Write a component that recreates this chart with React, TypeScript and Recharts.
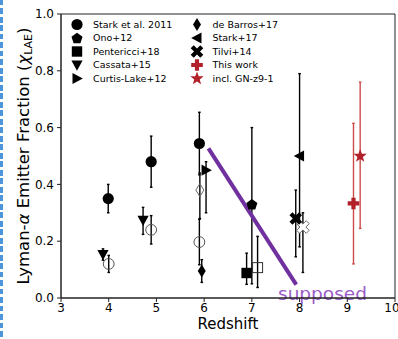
import React from 'react';
import {
  ComposedChart,
  Scatter,
  XAxis,
  YAxis,
  ErrorBar,
  ReferenceLine,
  ReferenceArea,
  Customized,
} from 'recharts';

// ---------- data ----------
const xTicks = [3, 4, 5, 6, 7, 8, 9, 10];
const yTicks = [0, 0.2, 0.4, 0.6, 0.8, 1.0];

const stark11X = [3.99, 4.89, 5.9];
const stark11Y = [0.35, 0.48, 0.544];
const stark11Lo = [0.05, 0.09, 0.11];
const stark11Hi = [0.05, 0.09, 0.11];

const stark11OpenX = [4.0, 4.89, 5.9];
const stark11OpenY = [0.12, 0.24, 0.197];
const stark11OpenLo = [0.03, 0.05, 0.08];
const stark11OpenHi = [0.03, 0.05, 0.08];

const cassataX = [3.88, 4.72];
const cassataY = [0.153, 0.274];
const cassataLo = [0.02, 0.05];
const cassataHi = [0.02, 0.045];

const curtisX = [6.04];
const curtisY = [0.45];
const curtisLo = [0.15];
const curtisHi = [0.03];

const deBarrosX = [5.95];
const deBarrosY = [0.095];
const deBarrosLo = [0.04];
const deBarrosHi = [0.04];

const deBarrosOpenX = [5.91];
const deBarrosOpenY = [0.38];
const deBarrosOpenLo = [0.1];
const deBarrosOpenHi = [0.06];

const onoX = [7.0];
const onoY = [0.33];
const onoLo = [0.28];
const onoHi = [0.27];

const pentericciX = [6.89];
const pentericciY = [0.088];
const pentericciLo = [0.04];
const pentericciHi = [0.07];

const pentericciOpenX = [7.12];
const pentericciOpenY = [0.107];
const pentericciOpenLo = [0.07];
const pentericciOpenHi = [0.11];

const stark17X = [8.0];
const stark17Y = [0.5];
const stark17Lo = [0.32];
const stark17Hi = [0.29];

const tilviX = [7.92];
const tilviY = [0.28];
const tilviLo = [0.135];
const tilviHi = [0.1];

const tilviOpenX = [8.07];
const tilviOpenY = [0.25];
const tilviOpenLo = [0.16];
const tilviOpenHi = [0.05];

const thisWorkX = [9.13];
const thisWorkY = [0.333];
const thisWorkLo = [0.213];
const thisWorkHi = [0.282];

const gnz9X = [9.27];
const gnz9Y = [0.5];
const gnz9Lo = [0.255];
const gnz9Hi = [0.26];

const supposedX = [6.09, 7.93];
const supposedY = [0.527, 0.047];

const legendLeft = ['Stark et al. 2011', 'Ono+12', 'Pentericci+18', 'Cassata+15', 'Curtis-Lake+12'];
const legendLeftMarkers = ['circle', 'pentagon', 'square', 'triDown', 'triRight'];
const legendRight = ['de Barros+17', 'Stark+17', 'Tilvi+14', 'This work', 'incl. GN-z9-1'];
const legendRightMarkers = ['diamond', 'triLeft', 'xFilled', 'plusRed', 'starRed'];

// ---------- helpers ----------
const build = (xs: number[], ys: number[], lo: number[], hi: number[]) =>
  xs.map((x, i) => ({ x, y: ys[i], err: [lo[i], hi[i]] }));

const RED = '#b2202a';
const RED_ERR = '#cc4b4b';
const FONT = 'DejaVu Sans, sans-serif';

const poly = (pts: number[][]) => pts.map((p) => p.join(',')).join(' ');

function plusPts(cx: number, cy: number, L: number, t: number) {
  return poly([
    [cx + t, cy - L], [cx + t, cy - t], [cx + L, cy - t], [cx + L, cy + t],
    [cx + t, cy + t], [cx + t, cy + L], [cx - t, cy + L], [cx - t, cy + t],
    [cx - L, cy + t], [cx - L, cy - t], [cx - t, cy - t], [cx - t, cy - L],
  ]);
}

function starPts(cx: number, cy: number, R: number, r: number) {
  const pts: number[][] = [];
  for (let k = 0; k < 10; k++) {
    const a = (-90 + k * 36) * (Math.PI / 180);
    const rr = k % 2 === 0 ? R : r;
    pts.push([cx + rr * Math.cos(a), cy + rr * Math.sin(a)]);
  }
  return poly(pts);
}

function pentPts(cx: number, cy: number, R: number) {
  const pts: number[][] = [];
  for (let k = 0; k < 5; k++) {
    const a = (-90 + k * 72) * (Math.PI / 180);
    pts.push([cx + R * Math.cos(a), cy + R * Math.sin(a)]);
  }
  return poly(pts);
}

function Marker({ type, cx, cy }: { type: string; cx: number; cy: number }) {
  if (cx == null || cy == null || isNaN(cx) || isNaN(cy)) return null;
  switch (type) {
    case 'circle':
      return <circle cx={cx} cy={cy} r={5.6} fill="#000" />;
    case 'openCircle':
      return <circle cx={cx} cy={cy} r={5.4} fill="none" stroke="#555" strokeWidth={1} />;
    case 'triDown':
      return <polygon points={poly([[cx - 5.6, cy - 4.5], [cx + 5.6, cy - 4.5], [cx, cy + 5.8]])} fill="#000" />;
    case 'triRight':
      return <polygon points={poly([[cx - 4.5, cy - 5.6], [cx - 4.5, cy + 5.6], [cx + 5.8, cy]])} fill="#000" />;
    case 'triLeft':
      return <polygon points={poly([[cx + 4.5, cy - 5.6], [cx + 4.5, cy + 5.6], [cx - 5.8, cy]])} fill="#000" />;
    case 'pentagon':
      return <polygon points={pentPts(cx, cy + 0.5, 5.8)} fill="#000" />;
    case 'square':
      return <rect x={cx - 5.2} y={cy - 5.2} width={10.4} height={10.4} fill="#000" />;
    case 'openSquare':
      return <rect x={cx - 5} y={cy - 5} width={10} height={10} fill="none" stroke="#333" strokeWidth={1} />;
    case 'diamond':
      return <polygon points={poly([[cx, cy - 6.5], [cx + 4, cy], [cx, cy + 6.5], [cx - 4, cy]])} fill="#000" />;
    case 'openDiamond':
      return <polygon points={poly([[cx, cy - 6.5], [cx + 4, cy], [cx, cy + 6.5], [cx - 4, cy]])} fill="none" stroke="#666" strokeWidth={1} />;
    case 'xFilled':
      return <polygon points={plusPts(cx, cy, 6.8, 2.1)} fill="#000" transform={`rotate(45 ${cx} ${cy})`} />;
    case 'xOpen':
      return <polygon points={plusPts(cx, cy, 6.8, 2.1)} fill="#fff" stroke="#666" strokeWidth={0.9} transform={`rotate(45 ${cx} ${cy})`} />;
    case 'plusRed':
      return <polygon points={plusPts(cx, cy, 5.8, 2.1)} fill={RED} />;
    case 'starRed':
      return <polygon points={starPts(cx, cy, 7, 2.9)} fill={RED} />;
    default:
      return null;
  }
}

const shapeOf = (type: string) => (p: any) => <Marker type={type} cx={p.cx} cy={p.cy} />;

const W = 398;
const H = 339;
const M = { top: 14, right: 3, bottom: 11, left: 0 };
const Y_AXIS_W = 61;
const X_AXIS_H = 30;

function Overlay() {
  const rowY = [24.5, 38, 51.5, 65, 78.5];
  return (
    <g fontFamily={FONT}>
      {legendLeft.map((name, i) => (
        <g key={'l' + i}>
          <Marker type={legendLeftMarkers[i]} cx={77} cy={rowY[i]} />
          <text x={93} y={rowY[i] + 3.4} fontSize={9.5} fill="#000">{name}</text>
        </g>
      ))}
      {legendRight.map((name, i) => (
        <g key={'r' + i}>
          <Marker type={legendRightMarkers[i]} cx={197} cy={rowY[i]} />
          <text x={212.5} y={rowY[i] + 3.4} fontSize={9.5} fill="#000">{name}</text>
        </g>
      ))}
      <text x={228} y={328.5} fontSize={15} textAnchor="middle" fill="#000">Redshift</text>
      <text x={28.5} y={156} fontSize={16.5} textAnchor="middle" fill="#000" transform="rotate(-90 28.5 156)">
        Lyman-<tspan fontStyle="italic">α</tspan> Emitter Fraction (<tspan fontStyle="italic">χ</tspan>
        <tspan fontSize={11} dy={3.5}>LAE</tspan>
        <tspan dy={-3.5}>)</tspan>
      </text>
      <text x={278} y={299.5} fontSize={18.5} fill="#9a5cc8">supposed</text>
    </g>
  );
}

const series = [
  { key: 'stark11Open', data: build(stark11OpenX, stark11OpenY, stark11OpenLo, stark11OpenHi), m: 'openCircle', c: '#000' },
  { key: 'stark11', data: build(stark11X, stark11Y, stark11Lo, stark11Hi), m: 'circle', c: '#000' },
  { key: 'cassata', data: build(cassataX, cassataY, cassataLo, cassataHi), m: 'triDown', c: '#000' },
  { key: 'deBarrosOpen', data: build(deBarrosOpenX, deBarrosOpenY, deBarrosOpenLo, deBarrosOpenHi), m: 'openDiamond', c: '#000' },
  { key: 'deBarros', data: build(deBarrosX, deBarrosY, deBarrosLo, deBarrosHi), m: 'diamond', c: '#000' },
  { key: 'curtis', data: build(curtisX, curtisY, curtisLo, curtisHi), m: 'triRight', c: '#000' },
  { key: 'ono', data: build(onoX, onoY, onoLo, onoHi), m: 'pentagon', c: '#000' },
  { key: 'pentericciOpen', data: build(pentericciOpenX, pentericciOpenY, pentericciOpenLo, pentericciOpenHi), m: 'openSquare', c: '#000' },
  { key: 'pentericci', data: build(pentericciX, pentericciY, pentericciLo, pentericciHi), m: 'square', c: '#000' },
  { key: 'stark17', data: build(stark17X, stark17Y, stark17Lo, stark17Hi), m: 'triLeft', c: '#000' },
  { key: 'tilviOpen', data: build(tilviOpenX, tilviOpenY, tilviOpenLo, tilviOpenHi), m: 'xOpen', c: '#000' },
  { key: 'tilvi', data: build(tilviX, tilviY, tilviLo, tilviHi), m: 'xFilled', c: '#000' },
  { key: 'thisWork', data: build(thisWorkX, thisWorkY, thisWorkLo, thisWorkHi), m: 'plusRed', c: RED_ERR },
  { key: 'gnz9', data: build(gnz9X, gnz9Y, gnz9Lo, gnz9Hi), m: 'starRed', c: RED_ERR },
];

export default function App() {
  return (
    <div style={{ position: 'absolute', left: 0, top: 0, width: W, height: H, background: '#fff' }}>
      <div
        style={{
          position: 'absolute',
          left: 0,
          top: 0,
          width: 2.5,
          height: H,
          background: 'repeating-linear-gradient(to bottom, #4d94db 0px, #4d94db 5.5px, transparent 5.5px, transparent 8.5px)',
        }}
      />
      <ComposedChart width={W} height={H} margin={M} style={{ fontFamily: FONT }}>
        <XAxis
          type="number"
          dataKey="x"
          domain={[3, 10]}
          ticks={xTicks}
          allowDataOverflow
          height={X_AXIS_H}
          tickSize={4}
          tickMargin={1}
          tick={{ fontSize: 12, fill: '#000' }}
          axisLine={{ stroke: '#222' }}
          tickLine={{ stroke: '#222' }}
        />
        <YAxis
          type="number"
          dataKey="y"
          domain={[0, 1]}
          ticks={yTicks}
          allowDataOverflow
          width={Y_AXIS_W}
          tickSize={4}
          tickMargin={3}
          tickFormatter={(v: number) => v.toFixed(1)}
          tick={{ fontSize: 12, fill: '#000' }}
          axisLine={{ stroke: '#222' }}
          tickLine={{ stroke: '#222' }}
        />
        <ReferenceArea x1={3} x2={10} y1={0} y2={1} fill="none" stroke="#222" strokeWidth={1} ifOverflow="visible" />
        {series.map((s) => (
          <Scatter key={s.key} data={s.data} dataKey="y" isAnimationActive={false} shape={shapeOf(s.m)}>
            <ErrorBar dataKey="err" direction="y" width={1.3} stroke={s.c} strokeWidth={1.4} />
          </Scatter>
        ))}
        <ReferenceLine
          segment={[
            { x: supposedX[0], y: supposedY[0] },
            { x: supposedX[1], y: supposedY[1] },
          ]}
          stroke="#7030a0"
          strokeWidth={4}
          ifOverflow="visible"
        />
        <Customized component={Overlay} />
      </ComposedChart>
    </div>
  );
}
